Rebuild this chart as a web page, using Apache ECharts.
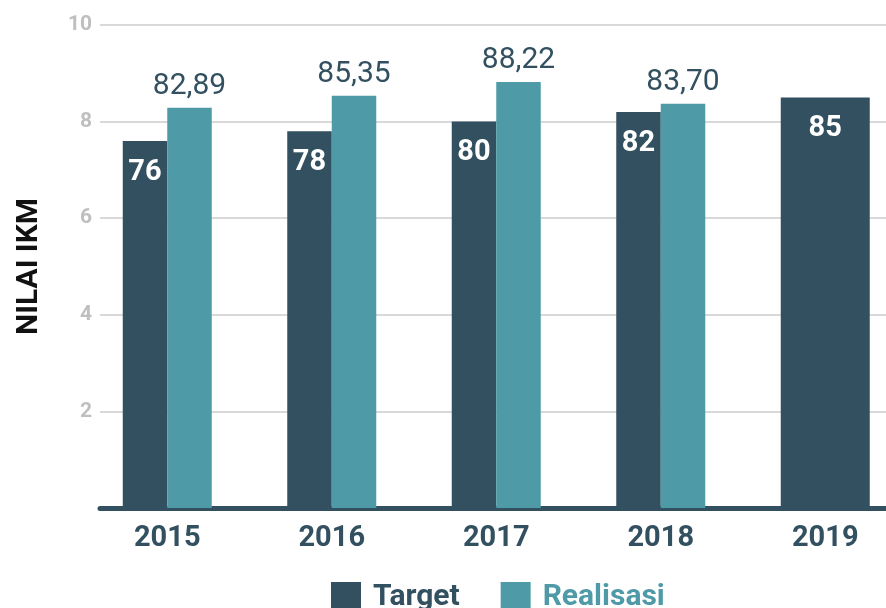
<!DOCTYPE html>
<html>
<head>
<meta charset="utf-8">
<script src="https://cdn.jsdelivr.net/npm/echarts@6/dist/echarts.min.js"></script>
<style>
html,body{margin:0;padding:0;background:#fff;overflow:hidden;}
#chart{width:886px;height:608px;}
</style>
</head>
<body>
<div id="chart"></div>
<script>
var years = ['2015', '2016', '2017', '2018', '2019'];
var target = [76, 78, 80, 82, 85];
var realisasi = [82.89, 85.35, 88.22, 83.70, null];
var yTickValues = [0, 20, 40, 60, 80, 100];

var DARK = '#32505f';
var TEAL = '#4e9ba7';
var FONT = 'Roboto, "Open Sans", sans-serif';

var targetGrouped = target.map(function (v, i) { return realisasi[i] == null ? null : v; });
var targetSingle = target.map(function (v, i) { return realisasi[i] == null ? v : null; });

var targetLabel = {
  show: true, position: 'insideTop', distance: 17,
  color: '#fff', fontSize: 29, fontWeight: 'bold', fontFamily: FONT
};

var chart = echarts.init(document.getElementById('chart'));
chart.setOption({
  backgroundColor: '#fff',
  animation: false,
  grid: [
    { left: 100, right: 0, top: 25, height: 483, outerBoundsMode: 'none', containLabel: false },
    { left: 85, width: 822.5, top: 25, height: 483, outerBoundsMode: 'none', containLabel: false }
  ],
  legend: {
    left: 326, top: 577,
    itemWidth: 30, itemHeight: 30, itemGap: 41,
    icon: 'rect',
    textStyle: { fontSize: 30, fontWeight: 'bold', fontFamily: FONT, padding: [0, 0, 0, 7] },
    data: [
      { name: 'Target', textStyle: { color: DARK } },
      { name: 'Realisasi', textStyle: { color: TEAL } }
    ]
  },
  xAxis: [
    {
      gridIndex: 0, type: 'value', min: 0, max: 1,
      axisLine: { show: true, lineStyle: { color: DARK, width: 5 } },
      axisTick: { show: false }, axisLabel: { show: false }, splitLine: { show: false }
    },
    {
      gridIndex: 1, type: 'category', data: years,
      axisLine: { show: false }, axisTick: { show: false },
      axisLabel: { margin: 16, color: DARK, fontSize: 29, fontWeight: 'bold', fontFamily: FONT }
    },
    {
      gridIndex: 1, type: 'category', data: years, show: false
    }
  ],
  yAxis: [
    {
      gridIndex: 0, type: 'value', min: 0, max: 100, interval: 20,
      name: 'NILAI IKM', nameLocation: 'middle', nameRotate: 90, nameGap: 56,
      nameTextStyle: { color: '#111', fontSize: 30, fontWeight: 'bold', fontFamily: '"Liberation Sans Narrow", Roboto, sans-serif' },
      axisLine: { show: false }, axisTick: { show: false },
      axisLabel: {
        margin: 8, color: '#bfbfbf', fontSize: 21, fontWeight: 'bold', fontFamily: FONT,
        formatter: function (v) { return yTickValues.indexOf(v) > 0 ? String(v / 10) : ''; }
      },
      splitLine: { show: true, lineStyle: { color: '#cdcdcd', width: 1.5 } }
    },
    { gridIndex: 1, type: 'value', min: 0, max: 100, show: false, splitLine: { show: false } }
  ],
  series: [
    {
      name: 'Target', type: 'bar', xAxisIndex: 1, yAxisIndex: 1,
      data: targetGrouped, barWidth: 44.5, barGap: '0%',
      itemStyle: { color: DARK },
      label: targetLabel
    },
    {
      name: 'Realisasi', type: 'bar', xAxisIndex: 1, yAxisIndex: 1,
      data: realisasi, barWidth: 44.5, barGap: '0%',
      itemStyle: { color: TEAL },
      label: {
        show: true, position: 'top', distance: 6,
        color: DARK, fontSize: 30, fontFamily: FONT,
        formatter: function (p) { return p.value.toFixed(2).replace('.', ','); }
      }
    },
    {
      name: 'Target ', type: 'bar', xAxisIndex: 2, yAxisIndex: 1,
      data: targetSingle, barWidth: 89,
      itemStyle: { color: DARK },
      label: targetLabel
    }
  ]
});
</script>
</body>
</html>
